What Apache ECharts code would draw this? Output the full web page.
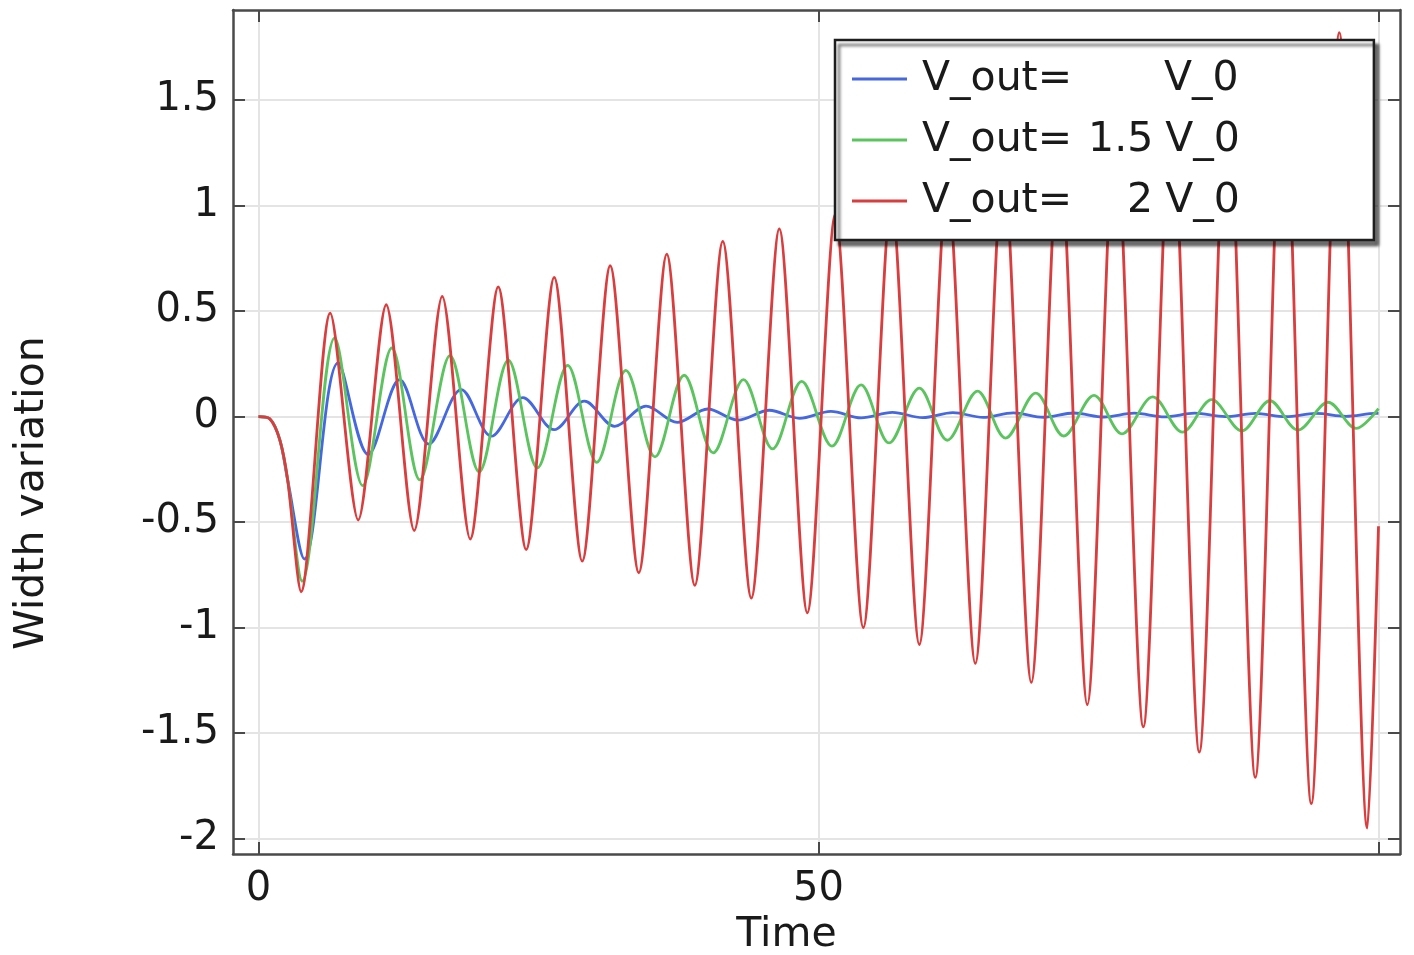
<!DOCTYPE html>
<html>
<head>
<meta charset="utf-8">
<style>
  html, body { margin: 0; padding: 0; background: #ffffff; }
  #chart { width: 1414px; height: 955px; }
</style>
<script src="https://cdn.jsdelivr.net/npm/echarts@6/dist/echarts.min.js"></script>
</head>
<body>
<div id="chart"></div>
<script>
// ---- data ----
const startT = [0, 1.0, 1.9, 2.6];
const startY = [0, -0.01, -0.11, -0.30];

const blueT = [4.1, 7.1, 9.8, 12.6, 15.2, 18.1, 20.8, 23.6, 26.4, 29.1, 31.8, 34.6, 37.4, 40.1, 42.8, 45.6, 48.3, 51.1, 53.8, 56.6, 59.3, 62.0, 64.7, 67.4, 70.1, 72.8, 75.5, 78.2, 80.9, 83.6, 86.3, 89.0, 91.7, 94.4, 97.1, 99.8, 100];
const blueY = [-0.675, 0.255, -0.18, 0.175, -0.13, 0.128, -0.093, 0.09, -0.062, 0.073, -0.046, 0.05, -0.027, 0.036, -0.017, 0.03, -0.008, 0.025, -0.006, 0.02, -0.005, 0.019, -0.004, 0.018, -0.003, 0.017, -0.002, 0.016, -0.001, 0.016, 0.0, 0.015, 0.0, 0.015, 0.001, 0.015, 0.015];

const greenT = [3.9, 6.8, 9.3, 11.9, 14.4, 17.1, 19.7, 22.3, 24.9, 27.6, 30.2, 32.8, 35.4, 38.0, 40.6, 43.3, 45.9, 48.5, 51.2, 53.8, 56.3, 59.0, 61.5, 64.2, 66.7, 69.4, 71.9, 74.6, 77.1, 79.85, 82.5, 85.1, 87.8, 90.3, 92.8, 95.5, 98.0, 100];
const greenY = [-0.78, 0.373, -0.327, 0.325, -0.30, 0.289, -0.262, 0.268, -0.243, 0.243, -0.217, 0.219, -0.191, 0.196, -0.172, 0.175, -0.153, 0.167, -0.14, 0.15, -0.125, 0.135, -0.112, 0.121, -0.102, 0.111, -0.092, 0.101, -0.082, 0.093, -0.074, 0.08, -0.068, 0.075, -0.064, 0.068, -0.056, 0.038];

const redT = [3.8, 6.4, 8.9, 11.4, 13.9, 16.4, 18.9, 21.4, 23.9, 26.4, 28.9, 31.4, 33.95, 36.45, 38.95, 41.45, 44.0, 46.5, 49.0, 51.5, 54.0, 56.5, 59.0, 61.5, 64.0, 66.5, 69.0, 71.5, 74.0, 76.5, 79.0, 81.5, 84.0, 86.5, 89.0, 91.5, 94.0, 96.5, 99.0, 100];
const redY = [-0.83, 0.49, -0.49, 0.53, -0.54, 0.57, -0.58, 0.615, -0.63, 0.66, -0.685, 0.715, -0.74, 0.77, -0.80, 0.83, -0.86, 0.89, -0.93, 0.96, -1.0, 1.03, -1.08, 1.11, -1.17, 1.20, -1.26, 1.30, -1.365, 1.40, -1.47, 1.51, -1.59, 1.62, -1.71, 1.73, -1.834, 1.82, -1.95, -0.52];

const seriesNames = ['V_out= V_0', 'V_out= 1.5 V_0', 'V_out= 2 V_0'];
const legendCoeffs = ['', '1.5', '2'];
const yTicks = [-2, -1.5, -1, -0.5, 0, 0.5, 1, 1.5];
const xTicks = [0, 50, 100];
const xLabelValues = [0, 50];

function buildPoints(t, y) {
  const pts = [];
  for (let i = 0; i < startT.length; i++) pts.push([startT[i], startY[i]]);
  for (let i = 0; i < t.length; i++) pts.push([t[i], y[i]]);
  return pts;
}

const FONT = 'DejaVu Sans';
const TXT = '#1a1a1a';
const AXIS = '#4a4a4a';
const GRIDC = '#e4e4e4';

const X_MIN = -2.28, X_MAX = 101.92;
const Y_MIN = -2.073, Y_MAX = 1.927;

const chart = echarts.init(document.getElementById('chart'), null, { renderer: 'canvas' });

function xAxisCfg(isMain) {
  return {
    type: 'value', min: X_MIN, max: X_MAX,
    position: isMain ? 'bottom' : 'top',
    name: isMain ? 'Time' : '',
    nameLocation: 'middle', nameGap: 61,
    nameTextStyle: { fontFamily: FONT, fontSize: 41, color: TXT, padding: [0, 60, 0, 0] },
    axisLine: { show: true, onZero: false, lineStyle: { color: AXIS, width: 2.5 } },
    axisTick: { show: true, inside: true, length: 12, customValues: xTicks, lineStyle: { color: AXIS, width: 2 } },
    axisLabel: { show: isMain, customValues: xLabelValues, fontFamily: FONT, fontSize: 40, color: TXT, margin: 16 },
    splitLine: { show: isMain, lineStyle: { color: GRIDC, width: 2 } }
  };
}
function yAxisCfg(isMain) {
  return {
    type: 'value', min: Y_MIN, max: Y_MAX,
    position: isMain ? 'left' : 'right',
    name: isMain ? 'Width variation' : '',
    nameLocation: 'middle', nameGap: 180,
    nameTextStyle: { fontFamily: FONT, fontSize: 41, color: TXT, padding: [0, 122, 0, 0] },
    axisLine: { show: true, onZero: false, lineStyle: { color: AXIS, width: 2.5 } },
    axisTick: { show: true, inside: true, length: 12, customValues: yTicks, lineStyle: { color: AXIS, width: 2 } },
    axisLabel: { show: isMain, customValues: yTicks, fontFamily: FONT, fontSize: 40, color: TXT, margin: 14 },
    splitLine: { show: isMain, lineStyle: { color: GRIDC, width: 2 } }
  };
}

const colors = ['#4567e0', '#5cc45f', '#da3d3d'];
const dataSets = [buildPoints(blueT, blueY), buildPoints(greenT, greenY), buildPoints(redT, redY)];
const smooths = [0.34, 0.34, 0.28];

const series = seriesNames.map((n, i) => ({
  name: n, type: 'line', data: dataSets[i],
  xAxisIndex: 0, yAxisIndex: 0,
  symbol: 'none', smooth: smooths[i],
  lineStyle: { color: colors[i], width: 2.8 },
  itemStyle: { color: colors[i] },
  z: 2, clip: true
}));

const richBase = { fontFamily: FONT, fontSize: 41, color: TXT, lineHeight: 46 };
// padding (px) before the coefficient and before "V_0", per legend row
const coeffPad = [0, 16, 55];
const unitPad = [92, 12, 12];
const option = {
  animation: false,
  backgroundColor: '#ffffff',
  grid: { left: 233, right: 14, top: 10, bottom: 101, containLabel: false, outerBoundsMode: 'none' },
  xAxis: [xAxisCfg(true), xAxisCfg(false)],
  yAxis: [yAxisCfg(true), yAxisCfg(false)],
  legend: {
    orient: 'vertical', left: 835, top: 40, z: 20,
    data: seriesNames,
    selectedMode: false,
    icon: 'rect',
    backgroundColor: '#ffffff',
    borderColor: '#1e1e1e', borderWidth: 2.5, borderRadius: 0,
    shadowColor: 'rgba(0,0,0,0.55)', shadowBlur: 3, shadowOffsetX: 4, shadowOffsetY: 5,
    padding: [16, 134, 16, 17],
    itemGap: 15, itemWidth: 55, itemHeight: 3,
    textStyle: Object.assign({}, richBase, {
      rich: {
        a: Object.assign({}, richBase, { padding: [0, 0, 0, 10] }),
        b0: Object.assign({}, richBase, { padding: [0, 0, 0, coeffPad[0]] }),
        b1: Object.assign({}, richBase, { padding: [0, 0, 0, coeffPad[1]] }),
        b2: Object.assign({}, richBase, { padding: [0, 0, 0, coeffPad[2]] }),
        c0: Object.assign({}, richBase, { padding: [0, 0, 0, unitPad[0]] }),
        c1: Object.assign({}, richBase, { padding: [0, 0, 0, unitPad[1]] }),
        c2: Object.assign({}, richBase, { padding: [0, 0, 0, unitPad[2]] })
      }
    }),
    formatter: function (name) {
      const i = seriesNames.indexOf(name);
      const coeff = legendCoeffs[i] ? '{b' + i + '|' + legendCoeffs[i] + '}' : '';
      return '{a|V_out=}' + coeff + '{c' + i + '|V_0}';
    }
  },
  series: series
};
chart.setOption(option);
</script>
</body>
</html>
